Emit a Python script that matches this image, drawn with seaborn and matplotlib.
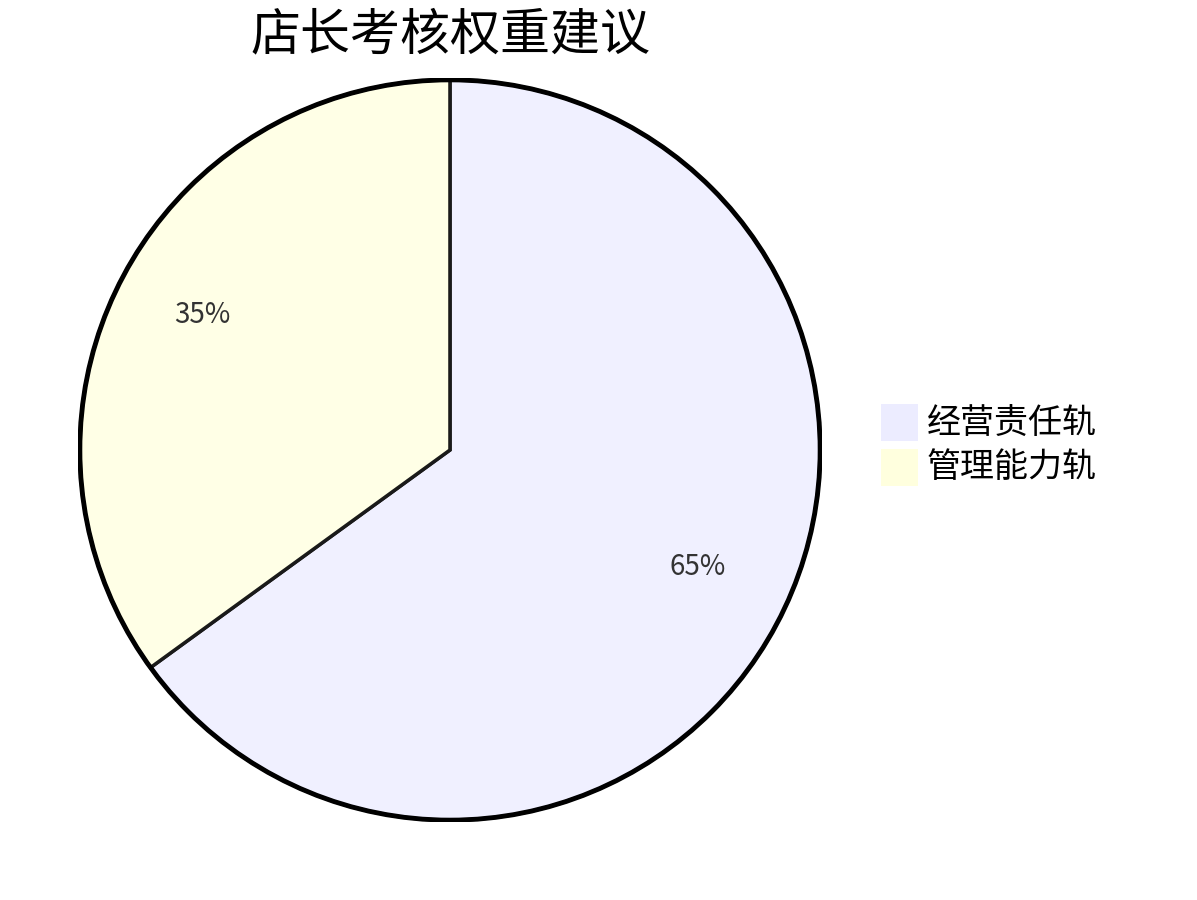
import numpy as np
import seaborn as sns
import matplotlib
matplotlib.use('Agg')
import matplotlib.pyplot as plt
from matplotlib.colors import to_rgba

sns.set_theme(style='white')
plt.rcParams['font.family'] = ['Noto Sans CJK SC', 'DejaVu Sans']

title = '店长考核权重建议'
labels = ['经营责任轨', '管理能力轨']
values = [65, 35]
colors = ['#ECECFF', '#FFFFDE']

fig = plt.figure(figsize=(11.97, 9), dpi=100)
ax = fig.add_axes([78 / 1197, 78 / 900, 744 / 1197, 744 / 900])

wedges, texts, autotexts = ax.pie(
    values, colors=[to_rgba(c, 0.75) for c in colors], startangle=90, counterclock=False, radius=1,
    autopct='%1.0f%%', pctdistance=0.75,
    wedgeprops=dict(edgecolor='#1a1a1a', linewidth=2.5),
    textprops=dict(fontsize=20, color='#333333'))
# nudge the percentage labels up a little
for t in autotexts:
    x, y = t.get_position()
    t.set_position((x, y + 0.024))
ax.add_patch(plt.Circle((0, 0), 1.0, fill=False, edgecolor='black', linewidth=3.5))
ax.set_xlim(-1.005, 1.005)
ax.set_ylim(-1.005, 1.005)
ax.set_aspect('equal')
ax.axis('off')

fig.text(450 / 1197, 1 - 35 / 900, title, ha='center', va='center', fontsize=36, color='black')

for i, (lab, c) in enumerate(zip(labels, colors)):
    y = 1 - (423 + i * 45) / 900
    fig.patches.append(plt.Rectangle((881 / 1197, y - 18 / 900), 37 / 1197, 37 / 900,
                                     transform=fig.transFigure, facecolor=c, edgecolor='none'))
    fig.text(927 / 1197, y, lab, ha='left', va='center', fontsize=24.5, color='black')

fig.savefig('out.png', dpi=100)
